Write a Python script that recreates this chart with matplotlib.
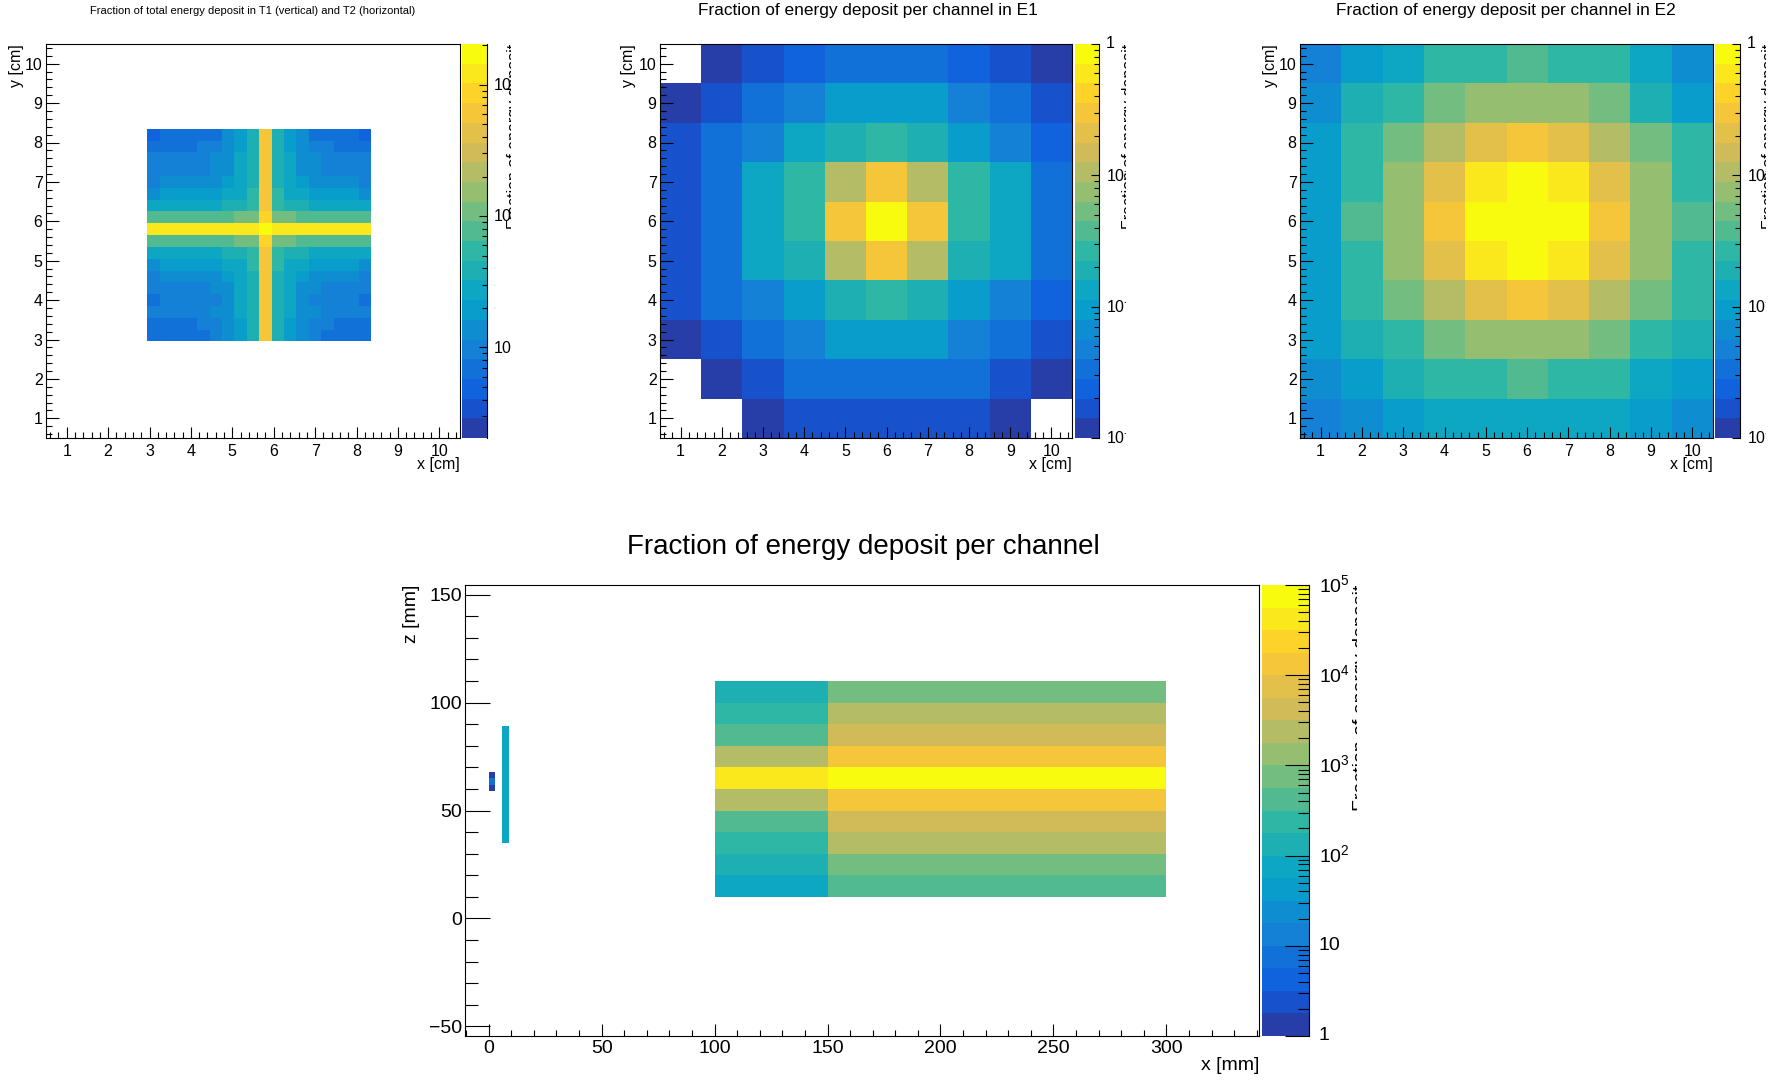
import numpy as np
import matplotlib
matplotlib.use("Agg")
import matplotlib.pyplot as plt
from matplotlib.colors import LinearSegmentedColormap, ListedColormap, BoundaryNorm
from matplotlib.ticker import MultipleLocator, LogLocator, NullFormatter
from matplotlib.transforms import Bbox, TransformedBbox, blended_transform_factory

plt.rcParams['font.family'] = ['Liberation Sans', 'DejaVu Sans']
plt.rcParams['mathtext.fontset'] = 'custom'
plt.rcParams['mathtext.rm'] = 'Liberation Sans'
plt.rcParams['mathtext.it'] = 'Liberation Sans:italic'
plt.rcParams['mathtext.bf'] = 'Liberation Sans:bold'
plt.rcParams['axes.linewidth'] = 0.8

nan = np.nan

# ---------------- data ----------------
# T1 (vertical strips) / T2 (horizontal strips), 0.3 cm pitch starting at 2.95 cm
strip_start = 2.95
strip_pitch = 0.3
t1_strips = [3.0e-4, 3.5e-4, 4.0e-4, 3.6e-4, 4.5e-4, 5.5e-4, 1.0e-3, 1.8e-3, 3.4e-3,
             6.6e-2, 3.4e-3, 1.8e-3, 1.0e-3, 5.5e-4, 4.5e-4, 4.0e-4, 3.5e-4, 3.0e-4]
t2_strips = [3.0e-4, 4.0e-4, 6.0e-4, 5.0e-4, 6.0e-4, 8.0e-4, 1.3e-3, 2.4e-3, 7.5e-3,
             1.2e-1, 7.5e-3, 2.4e-3, 1.3e-3, 8.0e-4, 6.0e-4, 6.0e-4, 4.0e-4, 2.5e-4]

# E1 / E2 channel maps, first row is y = 10, columns x = 1..10
e1_map = [
    [nan, 1.2e-3, 1.7e-3, 2.4e-3, 3.3e-3, 3.3e-3, 3.3e-3, 2.4e-3, 1.7e-3, 1.2e-3],
    [1.2e-3, 1.7e-3, 3.3e-3, 4.7e-3, 9.4e-3, 9.4e-3, 9.4e-3, 4.7e-3, 3.3e-3, 1.7e-3],
    [1.7e-3, 3.3e-3, 4.7e-3, 1.3e-2, 1.9e-2, 2.7e-2, 1.9e-2, 9.4e-3, 4.7e-3, 2.4e-3],
    [1.7e-3, 3.3e-3, 1.3e-2, 2.7e-2, 0.106, 0.30, 0.106, 2.7e-2, 1.3e-2, 3.3e-3],
    [1.7e-3, 3.3e-3, 1.3e-2, 2.7e-2, 0.30, 0.84, 0.30, 2.7e-2, 1.3e-2, 3.3e-3],
    [1.7e-3, 3.3e-3, 1.3e-2, 1.9e-2, 0.106, 0.30, 0.106, 1.9e-2, 1.3e-2, 3.3e-3],
    [1.7e-3, 3.3e-3, 4.7e-3, 9.4e-3, 1.9e-2, 2.7e-2, 1.9e-2, 9.4e-3, 4.7e-3, 2.4e-3],
    [1.2e-3, 1.7e-3, 3.3e-3, 4.7e-3, 9.4e-3, 9.4e-3, 9.4e-3, 4.7e-3, 3.3e-3, 1.7e-3],
    [nan, 1.2e-3, 1.7e-3, 3.3e-3, 3.3e-3, 3.3e-3, 3.3e-3, 3.3e-3, 1.7e-3, 1.2e-3],
    [nan, nan, 1.2e-3, 1.7e-3, 1.7e-3, 1.7e-3, 1.7e-3, 1.7e-3, 1.2e-3, nan],
]
e2_map = [
    [4.7e-3, 9.4e-3, 1.3e-2, 2.7e-2, 2.7e-2, 3.8e-2, 2.7e-2, 2.7e-2, 1.3e-2, 6.7e-3],
    [6.7e-3, 1.9e-2, 2.7e-2, 5.3e-2, 7.5e-2, 7.5e-2, 7.5e-2, 5.3e-2, 1.9e-2, 9.4e-3],
    [9.4e-3, 2.7e-2, 5.3e-2, 0.106, 0.21, 0.30, 0.21, 0.106, 5.3e-2, 2.7e-2],
    [9.4e-3, 2.7e-2, 7.5e-2, 0.21, 0.60, 0.84, 0.60, 0.21, 7.5e-2, 2.7e-2],
    [9.4e-3, 3.8e-2, 7.5e-2, 0.30, 0.84, 0.84, 0.84, 0.30, 7.5e-2, 3.8e-2],
    [9.4e-3, 2.7e-2, 7.5e-2, 0.21, 0.60, 0.84, 0.60, 0.21, 7.5e-2, 2.7e-2],
    [9.4e-3, 2.7e-2, 5.3e-2, 0.106, 0.21, 0.30, 0.21, 0.106, 5.3e-2, 2.7e-2],
    [9.4e-3, 1.9e-2, 2.7e-2, 5.3e-2, 7.5e-2, 7.5e-2, 7.5e-2, 5.3e-2, 2.7e-2, 1.9e-2],
    [6.7e-3, 9.4e-3, 1.9e-2, 2.7e-2, 2.7e-2, 3.8e-2, 2.7e-2, 2.7e-2, 1.3e-2, 9.4e-3],
    [4.7e-3, 6.7e-3, 9.4e-3, 1.3e-2, 1.3e-2, 1.3e-2, 1.3e-2, 1.3e-2, 9.4e-3, 6.7e-3],
]

# side view (x-z), 10 mm layers from z = 10 mm to z = 110 mm
layer_z = [10, 20, 30, 40, 50, 60, 70, 80, 90, 100, 110]
e1_x = [100, 150]
e2_x = [150, 300]
e1_layers = [75, 133, 237, 422, 2370, 42200, 2370, 422, 237, 133]
e2_layers = [422, 750, 2370, 4220, 13300, 75000, 13300, 4220, 2370, 750]
t1_x = [0, 3]
t1_z = [59, 62, 65, 68]
t1_side = [1.3, 7.5, 1.3]
t2_x = [6, 9]
t2_z = [35, 89]
t2_side = [75]

# ---------------- palette (ROOT kBird, 20 contour levels) ----------------
bird_stops = [0.0, 0.125, 0.25, 0.375, 0.5, 0.625, 0.75, 0.875, 1.0]
bird_r = [0.2082, 0.0592, 0.0780, 0.0232, 0.1802, 0.5301, 0.8186, 0.9956, 0.9764]
bird_g = [0.1664, 0.3599, 0.5041, 0.6419, 0.7178, 0.7492, 0.7328, 0.7862, 0.9832]
bird_b = [0.5293, 0.8684, 0.8385, 0.7914, 0.6425, 0.4662, 0.3499, 0.1968, 0.0539]
bird = LinearSegmentedColormap.from_list(
    'bird', list(zip(bird_stops, zip(bird_r, bird_g, bird_b))), N=255)
NCONT = 20
bands = ListedColormap([bird((i + 0.99) / NCONT) for i in range(NCONT)])

W, H = 1775, 1080
fig = plt.figure(figsize=(W / 100, H / 100), dpi=100)
fig.patch.set_facecolor('white')


def box(l, t, r, b):
    return [l / W, 1 - b / H, (r - l) / W, (b - t) / H]


def ftext(x, y, s, **kw):
    return fig.text(x / W, 1 - y / H, s, **kw)


def clip_to(right_px):
    return TransformedBbox(Bbox.from_extents(0, 0, right_px / W, 1), fig.transFigure)


def log_norm(lo, hi):
    levels = np.logspace(np.log10(lo), np.log10(hi), NCONT + 1)
    return levels, BoundaryNorm(levels, NCONT)


def palette_axis(rect, levels, norm, ticks, labels, clip_r, fs, maj, mnr, lab_dx):
    l, t, r, b = rect
    cax = fig.add_axes(box(l, t, r, b))
    centers = np.sqrt(levels[:-1] * levels[1:])
    cax.pcolormesh([0, 1], levels, centers[:, None], cmap=bands, norm=norm)
    cax.set_yscale('log')
    cax.set_ylim(levels[0], levels[-1])
    cax.set_xlim(0, 1)
    cax.set_xticks([])
    for side in ('left', 'top', 'bottom'):
        cax.spines[side].set_visible(False)
    cax.yaxis.tick_right()
    cax.yaxis.set_major_locator(LogLocator(base=10))
    cax.yaxis.set_minor_locator(LogLocator(base=10, subs=np.arange(2, 10), numticks=20))
    cax.yaxis.set_major_formatter(NullFormatter())
    cax.yaxis.set_minor_formatter(NullFormatter())
    cax.tick_params(axis='y', which='major', direction='in', length=maj, width=0.8)
    cax.tick_params(axis='y', which='minor', direction='in', length=mnr, width=0.8)
    # the pad ends just right of the palette: labels and title run past its edge
    clip = clip_to(clip_r)
    tr = blended_transform_factory(fig.transFigure, cax.transData)
    for v, s in zip(ticks, labels):
        txt = fig.text((r + lab_dx) / W, v, s, transform=tr, ha='left', va='center',
                       fontsize=fs)
        txt.set_clip_box(clip)
    ztitle = ftext(clip_r - 4, t, 'Fraction of energy deposit', rotation=90,
                   ha='left', va='top', fontsize=fs)
    ztitle.set_clip_box(clip)
    return cax


def style_top(ax):
    ax.set_xlim(0.5, 10.5)
    ax.set_ylim(0.5, 10.5)
    ax.xaxis.set_major_locator(MultipleLocator(1))
    ax.xaxis.set_minor_locator(MultipleLocator(0.2))
    ax.yaxis.set_major_locator(MultipleLocator(1))
    ax.yaxis.set_minor_locator(MultipleLocator(0.2))
    ax.tick_params(which='both', direction='in', top=False, right=False, width=0.8,
                   labelsize=11.5)
    ax.tick_params(axis='x', which='major', length=8, pad=4)
    ax.tick_params(axis='x', which='minor', length=4)
    ax.tick_params(axis='y', which='major', length=9, pad=2.5)
    ax.tick_params(axis='y', which='minor', length=4.5)


grid_edges = np.arange(0.5, 11.0, 1.0)
top_ticks = [1, 1e-1, 1e-2, 1e-3]
top_labels = ['1', '$10^{-1}$', '$10^{-2}$', '$10^{-3}$']

# ---------- T1 / T2 ----------
ax1 = fig.add_axes(box(46, 44, 460, 438))
style_top(ax1)
lv1, nm1 = log_norm(10 ** -3.69, 10 ** -0.69)
strip_edges = strip_start + strip_pitch * np.arange(len(t1_strips) + 1)
tt = np.array(t2_strips)[:, None] + np.array(t1_strips)[None, :]
ax1.pcolormesh(strip_edges, strip_edges, tt, cmap=bands, norm=nm1)
palette_axis((462, 44, 487, 438), lv1, nm1, top_ticks[1:], top_labels[1:], 511,
             11.5, 6, 3.5, 6)
ftext(253, 11, 'Fraction of total energy deposit in T1 (vertical) and T2 (horizontal)',
      ha='center', va='center', fontsize=8)
ftext(17, 44, 'y [cm]', rotation=90, ha='center', va='top', fontsize=11.5)
ftext(460, 464, 'x [cm]', ha='right', va='center', fontsize=11.5)

# ---------- E1 ----------
ax2 = fig.add_axes(box(660, 44, 1072, 438))
style_top(ax2)
lv2, nm2 = log_norm(1e-3, 1.0)
ax2.pcolormesh(grid_edges, grid_edges, np.ma.masked_invalid(np.array(e1_map)[::-1]),
               cmap=bands, norm=nm2)
palette_axis((1075, 44, 1099, 438), lv2, nm2, top_ticks, top_labels, 1126,
             11.5, 6, 3.5, 7)
ftext(868, 11, 'Fraction of energy deposit per channel in E1', ha='center', va='center',
      fontsize=12.4)
ftext(629, 44, 'y [cm]', rotation=90, ha='center', va='top', fontsize=11.5)
ftext(1072, 464, 'x [cm]', ha='right', va='center', fontsize=11.5)

# ---------- E2 ----------
ax3 = fig.add_axes(box(1300, 44, 1713, 438))
style_top(ax3)
ax3.pcolormesh(grid_edges, grid_edges, np.array(e2_map)[::-1], cmap=bands, norm=nm2)
palette_axis((1715, 44, 1740, 438), lv2, nm2, top_ticks, top_labels, 1766,
             11.5, 6, 3.5, 7)
ftext(1506, 11, 'Fraction of energy deposit per channel in E2', ha='center', va='center',
      fontsize=12.4)
ftext(1270, 44, 'y [cm]', rotation=90, ha='center', va='top', fontsize=11.5)
ftext(1713, 464, 'x [cm]', ha='right', va='center', fontsize=11.5)

# ---------- side view ----------
ax4 = fig.add_axes(box(465, 585, 1259, 1036))
ax4.set_xlim(-10.5, 341)
ax4.set_ylim(-54.5, 154.5)
ax4.xaxis.set_major_locator(MultipleLocator(50))
ax4.xaxis.set_minor_locator(MultipleLocator(10))
ax4.yaxis.set_major_locator(MultipleLocator(50))
ax4.yaxis.set_minor_locator(MultipleLocator(10))
ax4.tick_params(which='both', direction='in', top=False, right=False, width=0.8,
                labelsize=14)
ax4.tick_params(axis='x', which='major', length=8.5, pad=3)
ax4.tick_params(axis='x', which='minor', length=4.3)
ax4.tick_params(axis='y', which='major', length=18, pad=2)
ax4.tick_params(axis='y', which='minor', length=9)
lv4, nm4 = log_norm(1.0, 1e5)
ax4.pcolormesh(e1_x, layer_z, np.array(e1_layers)[:, None], cmap=bands, norm=nm4)
ax4.pcolormesh(e2_x, layer_z, np.array(e2_layers)[:, None], cmap=bands, norm=nm4)
ax4.pcolormesh(t1_x, t1_z, np.array(t1_side)[:, None], cmap=bands, norm=nm4)
ax4.pcolormesh(t2_x, t2_z, np.array(t2_side)[:, None], cmap=bands, norm=nm4)
palette_axis((1262, 585, 1309, 1036), lv4, nm4,
             [1, 10, 1e2, 1e3, 1e4, 1e5],
             ['1', '10', '$10^{2}$', '$10^{3}$', '$10^{4}$', '$10^{5}$'],
             1357, 14, 17, 8, 10)
ftext(863, 547, 'Fraction of energy deposit per channel', ha='center', va='center',
      fontsize=20)
ftext(411, 585, 'z [mm]', rotation=90, ha='center', va='top', fontsize=14)
ftext(1259, 1066, 'x [mm]', ha='right', va='center', fontsize=14)

fig.savefig('out.png', dpi=100, facecolor='white')
